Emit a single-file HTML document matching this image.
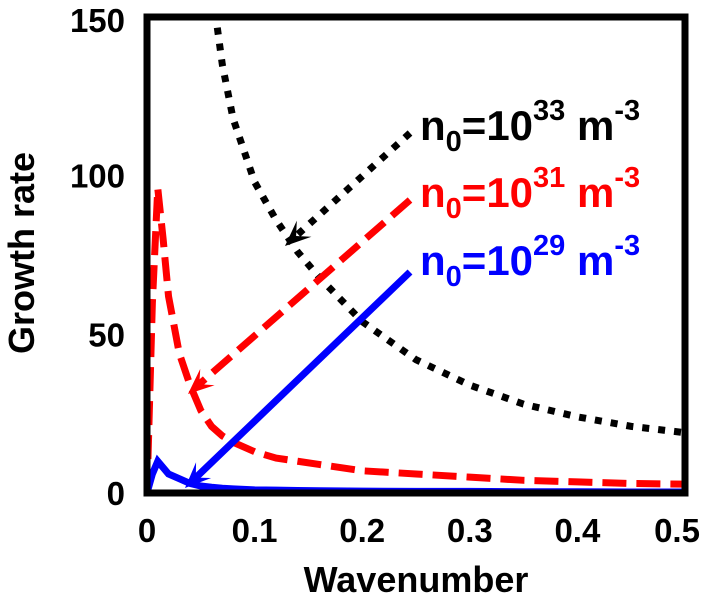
<!DOCTYPE html>
<html><head><meta charset="utf-8"><style>
body{margin:0;background:#fff;}
svg{display:block;font-family:"Liberation Sans",Arial,sans-serif;font-weight:bold;}
</style></head><body>
<svg id="chart" width="711" height="612" viewBox="0 0 711 612">
<g id="marks"></g>
<g id="axes"></g>
<g id="labels">
<text x="34" y="253" font-size="36" text-anchor="middle" transform="rotate(-90 34 253)">Growth rate</text>
<text x="416" y="592" font-size="36" text-anchor="middle">Wavenumber</text>
<text x="420" y="140" font-size="42" fill="#000">n<tspan font-size="29" dy="11">0</tspan><tspan dy="-11">=10</tspan><tspan font-size="29" dy="-20">33</tspan><tspan dy="20"> m</tspan><tspan font-size="29" dy="-20">-3</tspan></text>
<text x="420" y="207" font-size="42" fill="#ff0000">n<tspan font-size="29" dy="11">0</tspan><tspan dy="-11">=10</tspan><tspan font-size="29" dy="-20">31</tspan><tspan dy="20"> m</tspan><tspan font-size="29" dy="-20">-3</tspan></text>
<text x="420" y="275" font-size="42" fill="#0000ff">n<tspan font-size="29" dy="11">0</tspan><tspan dy="-11">=10</tspan><tspan font-size="29" dy="-20">29</tspan><tspan dy="20"> m</tspan><tspan font-size="29" dy="-20">-3</tspan></text>
</g>
</svg>
<script>
const kVals=[0,0.005,0.01,0.015,0.02,0.03,0.04,0.05,0.06,0.07,0.08,0.1,0.12,0.14,0.16,0.2,0.25,0.3,0.35,0.4,0.45,0.5];
const black=[1000,1000,1000,800,600,400,300,230,160,135,118,98,86,76,68,54,42,34,28,24,21,19];
const red=[0,60,96,80,62,44,34,26,21,18,16,13,11,10,9,7,6,5,4,3.5,3,2.8];
const blue=[0,6,10,8,6,4.5,3,2.2,1.8,1.5,1.3,1,0.9,0.8,0.7,0.6,0.5,0.5,0.4,0.4,0.3,0.3];
const xTicks=[0,0.1,0.2,0.3,0.4,0.5];
const yTicks=[0,50,100,150];
const X0=147,X1=685,Y0=493,Y1=17;
const xs=v=>X0+(v/0.5)*(X1-X0);
const ys=v=>Y0-(v/150)*(Y0-Y1);
const NS="http://www.w3.org/2000/svg";
const marks=document.getElementById('marks'),axes=document.getElementById('axes');
const cp=document.createElementNS(NS,'clipPath');cp.setAttribute('id','clip');
const cr=document.createElementNS(NS,'rect');cr.setAttribute('x',X0);cr.setAttribute('y',Y1);cr.setAttribute('width',X1-X0);cr.setAttribute('height',Y0-Y1);
cp.appendChild(cr);marks.appendChild(cp);
function line(vals,color,dash,name){
  const p=document.createElementNS(NS,'polyline');
  p.setAttribute('points',vals.map((v,i)=>xs(kVals[i])+','+ys(v)).join(' '));
  p.setAttribute('fill','none');p.setAttribute('stroke',color);p.setAttribute('stroke-width','7');
  if(dash)p.setAttribute('stroke-dasharray',dash);
  p.setAttribute('clip-path','url(#clip)');
  
  
  marks.appendChild(p);
}
line(black,'#000','7 9','series-1e33');
line(red,'#ff0000','24 10','series-1e31');
line(blue,'#0000ff',null,'series-1e29');
function arrow(x1,y1,x2,y2,color,dash,name){
  const g=document.createElementNS(NS,'g');
  
  
  const l=document.createElementNS(NS,'line');
  const a=Math.atan2(y2-y1,x2-x1);
  l.setAttribute('x1',x1);l.setAttribute('y1',y1);l.setAttribute('x2',x2-12*Math.cos(a));l.setAttribute('y2',y2-12*Math.sin(a));
  l.setAttribute('stroke',color);l.setAttribute('stroke-width','7');if(dash)l.setAttribute('stroke-dasharray',dash);
  g.appendChild(l);
  const h=document.createElementNS(NS,'polygon');
  const L=28,W=0.4;
  const p1=[x2-L*Math.cos(a-W),y2-L*Math.sin(a-W)],p2=[x2-L*Math.cos(a+W),y2-L*Math.sin(a+W)],p3=[x2-15*Math.cos(a),y2-15*Math.sin(a)];
  h.setAttribute('points',`${x2},${y2} ${p1} ${p3} ${p2}`);h.setAttribute('fill',color);
  g.appendChild(h);marks.appendChild(g);
}
arrow(410,133,285,246,'#000','7 9','arrow-1e33');
arrow(410,200,188,394,'#ff0000','24 10','arrow-1e31');
arrow(410,272,185,488,'#0000ff',null,'arrow-1e29');
const fr=document.createElementNS(NS,'rect');
fr.setAttribute('x',X0);fr.setAttribute('y',Y1);fr.setAttribute('width',X1-X0);fr.setAttribute('height',Y0-Y1);
fr.setAttribute('fill','none');fr.setAttribute('stroke','#000');fr.setAttribute('stroke-width','7');


axes.appendChild(fr);
xTicks.forEach(v=>{
  const t=document.createElementNS(NS,'text');
  t.setAttribute('x',xs(v)+(v===0.5?-8:0));t.setAttribute('y',542);t.setAttribute('font-size','33');t.setAttribute('text-anchor','middle');
  t.textContent=v===0?'0':String(v);
  
  
  axes.appendChild(t);
});
yTicks.forEach(v=>{
  const t=document.createElementNS(NS,'text');
  t.setAttribute('x',125);t.setAttribute('y',ys(v)+(v===150?15:12));t.setAttribute('font-size','33');t.setAttribute('text-anchor','end');
  t.textContent=String(v);
  
  
  axes.appendChild(t);
});
</script>
</body></html>
